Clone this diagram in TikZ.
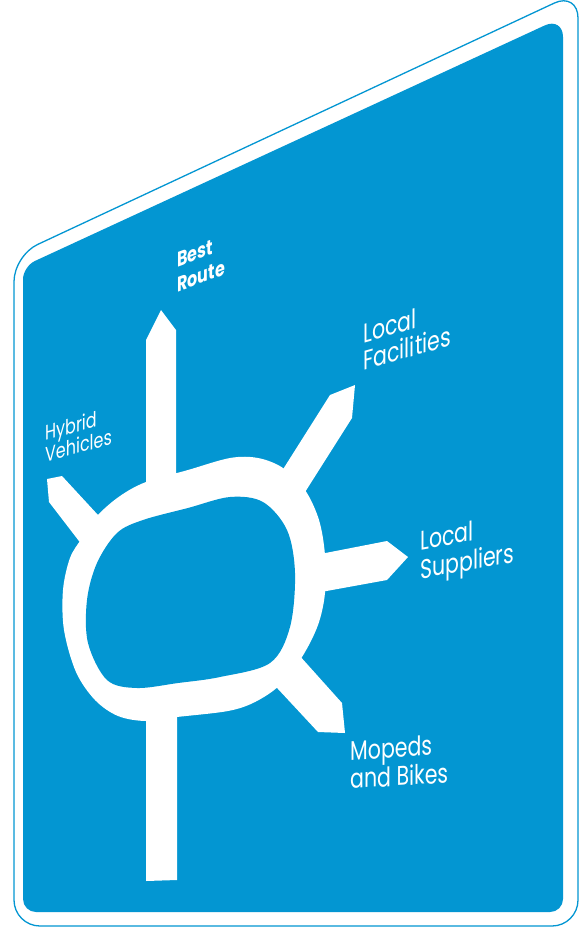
\documentclass[tikz,border=0pt]{standalone}
\usepackage{fontspec}
\newfontfamily\signfont{Poppins}[FakeStretch=0.76]
\usetikzlibrary{positioning}
\definecolor{signblue}{RGB}{3,150,210}
\tikzset{
rim/.style = {draw=signblue, fill=white, line width=1.3pt},
panel/.style = {fill=signblue},
road/.style = {fill=white},
hole/.style = {fill=signblue},
signtext/.style = {text=white, inner sep=0pt, align=left, anchor=north west, font=\signfont\fontsize{27}{27}\selectfont},
smalltext/.style = {signtext, font=\signfont\fontsize{21}{22}\selectfont},
boldtext/.style = {signtext, font=\signfont\bfseries\fontsize{21}{25}\selectfont}
}

\begin{document}
\begin{tikzpicture}[x=1pt, y=-1pt]
    \useasboundingbox (0,0) rectangle (579,927);
    \draw [rim, rounded corners=26pt] (14,600) -- (14,255.5) -- (578,-8) -- (578,926) -- (14,926) -- cycle;
    \fill [panel, rounded corners=13pt] (23,600) -- (23,266.5) [rounded corners=20pt] -- (563,17) [rounded corners=13pt] -- (563,912) -- (23,912) -- cycle;
    \fill [road] (146,500) -- (146,340) -- (161,310) -- (176,330) -- (176,490) -- cycle;
    \fill [road] (146,700) -- (146,881) -- (177,880) -- (177,700) -- cycle;
    \fill [road] (110,528) -- (62,476) -- (47,479) -- (49,502) -- (92,558) -- cycle;
    \fill [road] (275,482) -- (330,395) -- (355,385) -- (352,418) -- (300,500) -- cycle;
    \fill [road] (310,556) -- (387,541) -- (408,557) -- (387,580) -- (310,594) -- cycle;
    \fill [road] (290,645) -- (342,703) -- (345,733) -- (318,732) -- (265,675) -- cycle;
    \fill [road] plot [smooth cycle, tension=0.55] coordinates {(146,482) (188,470) (230,458) (258,458) (283,468) (305,490) (319,520) (325,555) (325,593) (318,625) (302,657) (280,685) (255,702) (228,711) (177,717) (146,721) (118,716) (95,700) (76,672) (64,630) (63,590) (70,558) (82,538) (98,515) (120,496)};
    \fill [hole] plot [smooth cycle, tension=0.55] coordinates {(143,520) (188,508) (230,497) (263,502) (287,530) (295,573) (290,627) (270,663) (220,677) (178,683) (137,688) (107,680) (88,643) (87,600) (97,563) (117,533)};
    \node [boldtext, yslant=0.37] (best) at (177,252.5) {Best\\Route};
    \node [smalltext, yslant=0.28] (hybrid) at (45,424.5) {Hybrid\\Vehicles};
    \node [signtext, yslant=0.28] (facilities) at (363,323) {Local\\Facilities};
    \node [signtext, yslant=0.18] (suppliers) at (420,530) {Local\\[2pt]Suppliers};
    \node [signtext, yslant=0.06] (mopeds) at (350,740) {Mopeds\\and Bikes};
\end{tikzpicture}
\end{document}
